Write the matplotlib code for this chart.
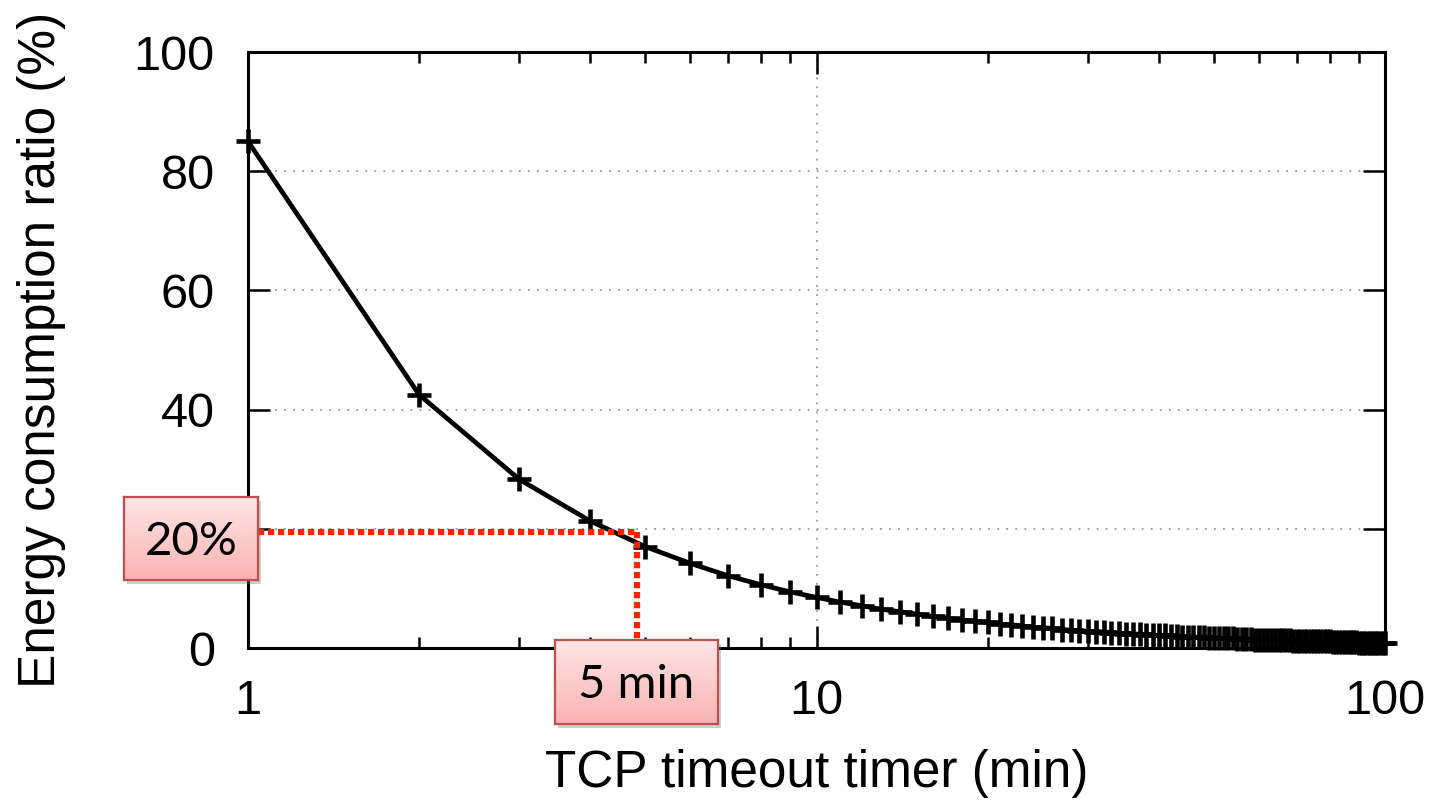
import numpy as np
import matplotlib
matplotlib.use('Agg')
from matplotlib import pyplot as plt
from matplotlib.patches import Rectangle

# data
timer_min = list(range(1, 101))
energy_ratio = [85.0, 42.5, 28.3, 21.3, 17.0, 14.2, 12.1, 10.6, 9.4, 8.5,
                7.7, 7.1, 6.5, 6.1, 5.7, 5.3, 5.0, 4.7, 4.5, 4.3,
                4.0, 3.9, 3.7, 3.5, 3.4, 3.3, 3.1, 3.0, 2.9, 2.8,
                2.7, 2.7, 2.6, 2.5, 2.4, 2.4, 2.3, 2.2, 2.2, 2.1,
                2.1, 2.0, 2.0, 1.9, 1.9, 1.8, 1.8, 1.8, 1.7, 1.7,
                1.7, 1.6, 1.6, 1.6, 1.5, 1.5, 1.5, 1.5, 1.4, 1.4,
                1.4, 1.4, 1.3, 1.3, 1.3, 1.3, 1.3, 1.3, 1.2, 1.2,
                1.2, 1.2, 1.2, 1.1, 1.1, 1.1, 1.1, 1.1, 1.1, 1.1,
                1.0, 1.0, 1.0, 1.0, 1.0, 1.0, 1.0, 1.0, 1.0, 0.9,
                0.9, 0.9, 0.9, 0.9, 0.9, 0.9, 0.9, 0.9, 0.9, 0.9]
x_ticks = [1, 10, 100]
x_ticklabels = ['1', '10', '100']
y_ticks = [0, 20, 40, 60, 80, 100]
y_ticklabels = ['0', '', '40', '60', '80', '100']   # "20" sits under the callout box
cutoff_x = 4.83     # where the 20% line meets the curve
cutoff_y = 19.5
box_labels = ['20%', '5 min']

W, H = 1439, 807
plt.rcParams['font.family'] = ['Liberation Sans', 'DejaVu Sans']
fig = plt.figure(figsize=(W / 100, H / 100), dpi=100)
ax = fig.add_axes([248 / W, 1 - 648 / H, (1385 - 248) / W, (648 - 52) / H])

ax.plot(timer_min, energy_ratio, color='black', lw=3.4, marker='+', ms=17, mew=3.3,
        clip_on=False, zorder=3)

ax.set_xscale('log')
ax.set_xlim(1, 100)
ax.set_ylim(0, 100)
ax.set_xticks(x_ticks)
ax.set_xticklabels(x_ticklabels)
ax.set_xticks([v * d for d in (1, 10) for v in range(2, 10)], minor=True)
ax.xaxis.set_minor_formatter(plt.NullFormatter())
ax.set_yticks(y_ticks)
ax.set_yticklabels(y_ticklabels)

ax.tick_params(which='both', direction='in', top=True, right=True, width=1.8,
               labelsize=35, colors='black')
ax.tick_params(which='major', length=16)
ax.tick_params(which='minor', length=8)
ax.tick_params(axis='y', pad=24)
ax.tick_params(axis='x', pad=22)
for s in ax.spines.values():
    s.set_linewidth(2.2)

ax.grid(which='major', color='#999999', lw=1.3, ls=(0, (1, 4)))

ax.set_xlabel('TCP timeout timer (min)', fontsize=37)
ax.set_ylabel('Energy consumption ratio (%)', fontsize=37)
ax.xaxis.label.set_va('center')
ax.yaxis.label.set_va('center')
ax.xaxis.set_label_coords(0.5, -0.21)
ax.yaxis.set_label_coords(-0.182, 0.5)

# red dotted guide lines
red = '#ff2200'
ax.plot([1, cutoff_x], [cutoff_y, cutoff_y], color=red, lw=4.5,
        ls=(0, (1.0, 0.6)), dash_capstyle='butt', zorder=4, clip_on=False)
ax.plot([cutoff_x, cutoff_x], [cutoff_y, 0], color=red, lw=4.5,
        ls=(0, (1.0, 0.6)), dash_capstyle='butt', zorder=4, clip_on=False)

# pink callout boxes with gradient and shadow
grad = np.linspace(0, 1, 100).reshape(-1, 1)
top_c = np.array([1.0, 0.90, 0.90])
bot_c = np.array([0.98, 0.70, 0.70])
img = top_c * (1 - grad[..., None]) + bot_c * grad[..., None]


def callout(x0, y0, x1, y1, text):
    fig.add_artist(Rectangle(((x0 + 3) / W, 1 - (y1 + 4) / H), (x1 - x0) / W,
                             (y1 - y0) / H, transform=fig.transFigure,
                             facecolor='#777777', alpha=0.35, edgecolor='none',
                             zorder=5))
    bx = fig.add_axes([x0 / W, 1 - y1 / H, (x1 - x0) / W, (y1 - y0) / H], zorder=6)
    bx.imshow(img, aspect='auto', extent=[0, 1, 0, 1])
    bx.set_xticks([])
    bx.set_yticks([])
    for s in bx.spines.values():
        s.set_color('#c0504d')
        s.set_linewidth(1.6)
    bx.text(0.5, 0.46, text, transform=bx.transAxes, ha='center', va='center',
            fontsize=34, family=['Lato', 'DejaVu Sans'], color='black')


callout(124, 497, 258, 580, box_labels[0])
callout(555, 640, 718, 724, box_labels[1])

fig.savefig('out.png', dpi=100)
